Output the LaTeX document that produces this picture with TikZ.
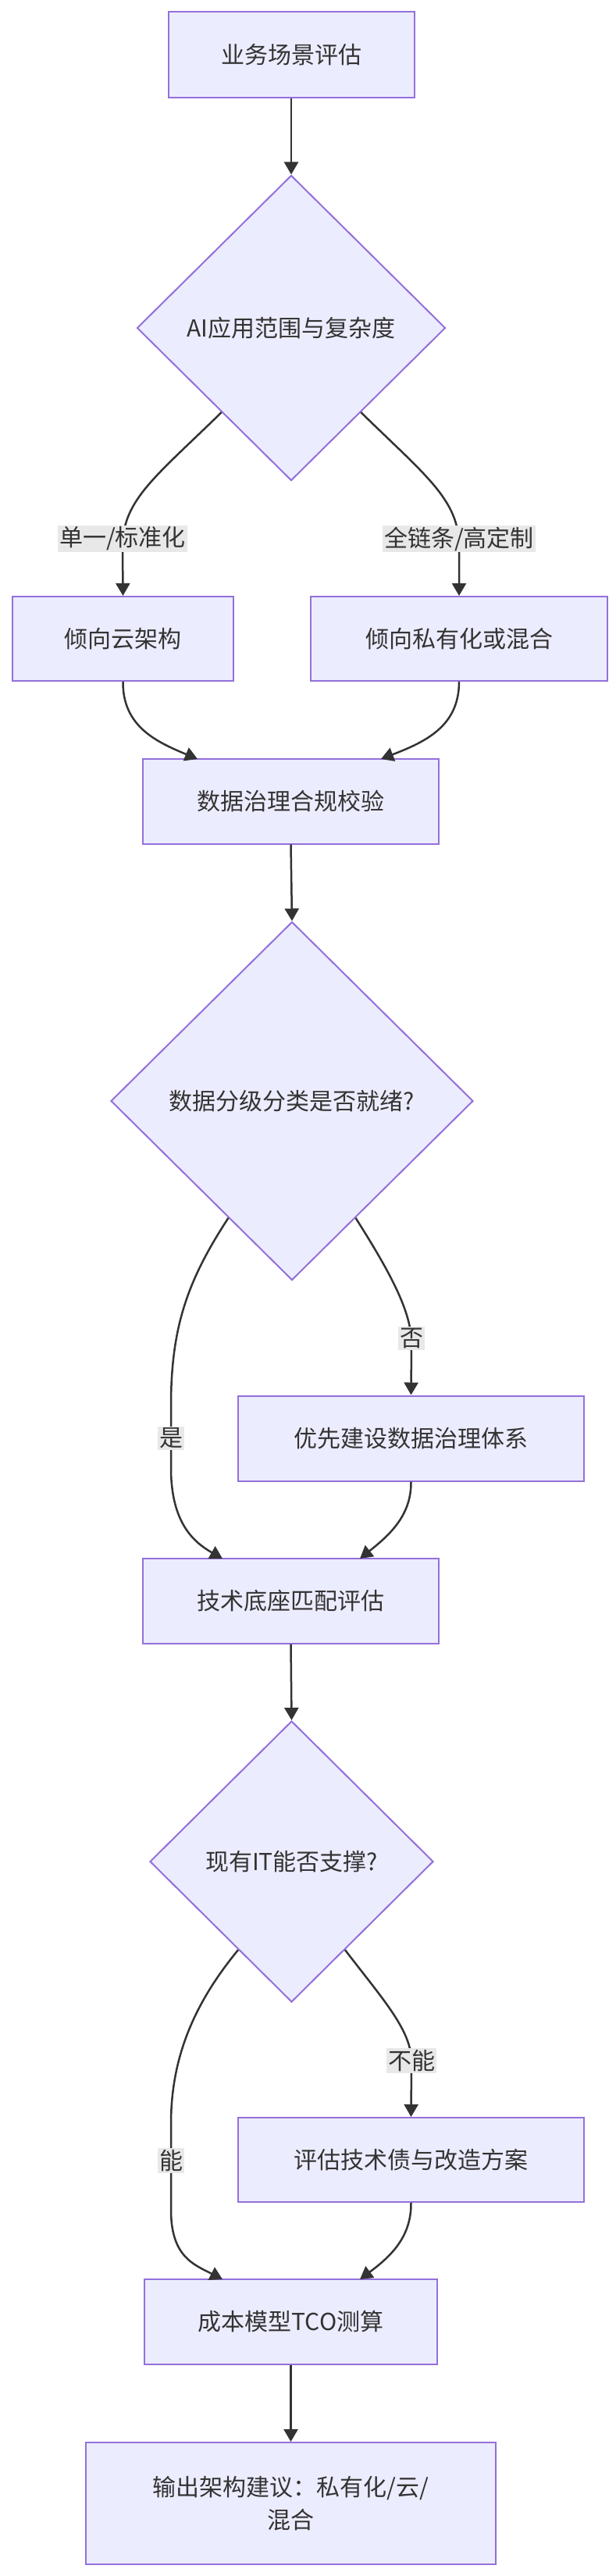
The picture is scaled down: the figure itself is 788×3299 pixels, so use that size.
\documentclass[tikz,border=0pt]{standalone}
\usepackage{fontspec}
\setmainfont{Noto Sans CJK SC}
\usetikzlibrary{shapes.geometric,arrows.meta,calc}
\definecolor{nfill}{HTML}{ECECFF}
\definecolor{nline}{HTML}{9370DB}
\definecolor{eline}{HTML}{333333}
\definecolor{lbg}{HTML}{E8E8E8}
\begin{document}
\begin{tikzpicture}[x=1pt,y=-1pt,
  every node/.style={font=\fontsize{30}{42}\selectfont, text=eline},
  box/.style={draw=nline, fill=nfill, line width=2pt, inner sep=0pt},
  dia/.style={diamond, draw=nline, fill=nfill, line width=2pt, inner sep=0pt},
  lab/.style={fill=lbg, inner sep=2pt},
  edge/.style={draw=eline, line width=2.5pt, -{Triangle[length=16pt,width=18pt]}}]
\useasboundingbox (0,0) rectangle (788,3299);
\node[box, minimum width=315, minimum height=110] (b1) at (373,70) {业务场景评估};
\node[dia, minimum width=395, minimum height=391] (d1) at (373,420) {AI应用范围与复杂度};
\node[box, minimum width=283, minimum height=108] (b2) at (157.5,818) {倾向云架构};
\node[box, minimum width=380, minimum height=108] (b3) at (588,818) {倾向私有化或混合};
\node[box, minimum width=379, minimum height=109] (b4) at (372.5,1026) {数据治理合规校验};
\node[dia, minimum width=464, minimum height=459] (d2) at (374,1410) {数据分级分类是否就绪?};
\node[box, minimum width=443, minimum height=109] (b5) at (526.5,1842) {优先建设数据治理体系};
\node[box, minimum width=379, minimum height=109] (b6) at (372.5,2050) {技术底座匹配评估};
\node[dia, minimum width=363, minimum height=360] (d3) at (373.5,2384) {现有IT能否支撑?};
\node[box, minimum width=443, minimum height=108] (b7) at (526.5,2766) {评估技术债与改造方案};
\node[box, minimum width=375, minimum height=109] (b8) at (372.5,2973) {成本模型TCO测算};
\node[box, minimum width=525, minimum height=156, align=center] (b9) at (372.5,3206) {输出架构建议：私有化/云/\\混合};
% edges
\draw[edge] (b1.south) -- (d1.north);
\draw[edge] ($(d1.south)!0.45!(d1.west)$) .. controls (200,610) and (157,640) .. (157,700) -- (b2.north);
\draw[edge] ($(d1.south)!0.45!(d1.east)$) .. controls (546,610) and (588,640) .. (588,700) -- (b3.north);
\draw[edge] (b2.south) .. controls (157,930) and (200,950) .. (253,972);
\draw[edge] (b3.south) .. controls (588,930) and (545,950) .. (488,972);
\draw[edge] (b4.south) -- (d2.north);
\draw[edge] ($(d2.south)!0.35!(d2.west)$) .. controls (240,1640) and (219,1700) .. (219,1800) -- (219,1880) .. controls (219,1950) and (248,1975) .. (285,1996);
\draw[edge] ($(d2.south)!0.35!(d2.east)$) .. controls (500,1630) and (527,1680) .. (527,1720) -- (b5.north);
\draw[edge] (b5.south) .. controls (527,1940) and (500,1965) .. (461,1996);
\draw[edge] (b6.south) -- (d3.north);
\draw[edge] ($(d3.south)!0.375!(d3.west)$) .. controls (245,2570) and (219,2640) .. (219,2720) -- (219,2830) .. controls (219,2890) and (248,2900) .. (285,2919);
\draw[edge] ($(d3.south)!0.375!(d3.east)$) .. controls (490,2560) and (527,2600) .. (527,2640) -- (b7.north);
\draw[edge] (b7.south) .. controls (527,2865) and (500,2890) .. (461,2919);
\draw[edge] (b8.south) -- (b9.north);
% labels
\node[lab] (l1) at (157,690) {单一/标准化};
\node[lab] (l2) at (588,690) {全链条/高定制};
\node[lab] (l3) at (527,1714) {否};
\node[lab] (l4) at (219,1842) {是};
\node[lab] (l5) at (527,2639) {不能};
\node[lab] (l6) at (219,2767) {能};
\end{tikzpicture}
\end{document}
